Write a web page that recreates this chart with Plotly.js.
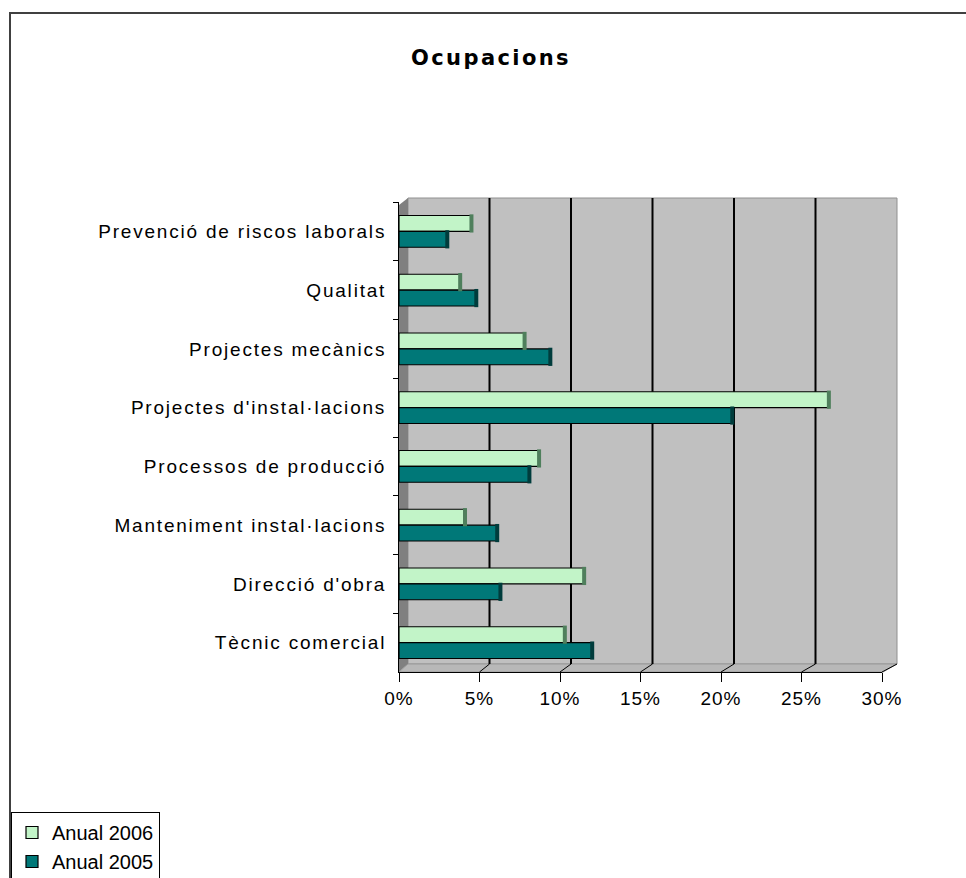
<!DOCTYPE html>
<html><head><meta charset="utf-8">
<script src="https://cdn.plot.ly/plotly-3.0.1.min.js"></script>
<style>
html,body{margin:0;padding:0;background:#fff;}
#chart{width:966px;height:878px;}
#chart .ytick text{letter-spacing:1.8px;}
#chart .xtick text{letter-spacing:1px;}
#chart .gtitle{letter-spacing:2.4px;}
</style></head><body><div id="chart"></div>
<script>
const categories = ["Prevenció de riscos laborals","Qualitat","Projectes mecànics","Projectes d'instal·lacions","Processos de producció","Manteniment instal·lacions","Direcció d'obra","Tècnic comercial"];
const anual2006 = [4.5, 3.8, 7.8, 26.7, 8.7, 4.1, 11.5, 10.3];
const anual2005 = [3.0, 4.8, 9.4, 20.7, 8.1, 6.1, 6.3, 12.0];
const seriesNames = ["Anual 2006", "Anual 2005"];
const xTickVals = [0, 5, 10, 15, 20, 25, 30];
const xTickText = ["0%", "5%", "10%", "15%", "20%", "25%", "30%"];

// geometry (pixels)
const W = 966, H = 878;
const L = 399, R = 882, T = 202, B = 672;
const fx = px => (px - L) / (R - L);
const fy = py => (B - py) / (B - T);
const backL = 408, backR = 897, backT = 198, backB = 664;
const backX = v => backL + v * (backR - backL) / 30;
const frontX = v => L + v * (R - L) / 30;

const shapes = [];
// outer chart border
shapes.push({type:'rect', xref:'paper', yref:'paper', x0:fx(10), x1:fx(990), y0:fy(13), y1:fy(900),
  line:{color:'#404040', width:2}, fillcolor:'rgba(0,0,0,0)', layer:'below'});
// back wall
shapes.push({type:'rect', xref:'paper', yref:'paper', x0:fx(backL), x1:fx(backR), y0:fy(backT), y1:fy(backB),
  line:{color:'#909090', width:1}, fillcolor:'#c0c0c0', layer:'below'});
// left wall
shapes.push({type:'path', xref:'paper', yref:'paper',
  path:`M${fx(L)},${fy(205)} L${fx(backL)},${fy(backT)} L${fx(backL)},${fy(backB)} L${fx(L)},${fy(B)} Z`,
  fillcolor:'#808080', line:{width:0}, layer:'below'});
// floor
shapes.push({type:'path', xref:'paper', yref:'paper',
  path:`M${fx(L)},${fy(B)} L${fx(backL)},${fy(backB)} L${fx(backR)},${fy(backB)} L${fx(R+1)},${fy(B)} Z`,
  fillcolor:'#b8b8b8', line:{color:'#9a9a9a', width:1}, layer:'below'});
// back gridlines + floor diagonal ticks
xTickVals.forEach(v => {
  if (v > 0 && v < 30) {
    shapes.push({type:'line', xref:'paper', yref:'paper', x0:fx(backX(v)), x1:fx(backX(v)), y0:fy(backT), y1:fy(backB),
      line:{color:'#000', width:2}, layer:'below'});
  }
  if (v > 0) {
    shapes.push({type:'line', xref:'paper', yref:'paper', x0:fx(frontX(v)), x1:fx(backX(v)), y0:fy(B), y1:fy(backB),
      line:{color:'#000', width:1}, layer:'below'});
  }
});

const traces = [
  {type:'bar', orientation:'h', name:seriesNames[0], y:categories, x:anual2006,
   marker:{color:'#c2f4c8', line:{color:'#000', width:1.2}}},
  {type:'bar', orientation:'h', name:seriesNames[1], y:categories, x:anual2005,
   marker:{color:'#007878', line:{color:'#000', width:1.2}}},
  // 3D end caps of the bars
  {type:'scatter', mode:'markers', orientation:'h', y:categories, x:anual2006, showlegend:false, cliponaxis:false,
   marker:{symbol:'line-ns-open', size:13, color:'#4f7f5c', line:{width:4}}},
  {type:'scatter', mode:'markers', orientation:'h', y:categories, x:anual2005, showlegend:false, cliponaxis:false,
   marker:{symbol:'line-ns-open', size:13, color:'#003c3c', line:{width:4}}}
];

const font = {family:'"Liberation Sans", Arial, sans-serif', size:19, color:'#000'};

const layout = {
  width:W, height:H,
  margin:{l:L, r:W-R, t:T, b:H-B, pad:0, autoexpand:false},
  paper_bgcolor:'#fff', plot_bgcolor:'rgba(0,0,0,0)',
  font:font,
  title:{text:'Ocupacions', font:{family:'"DejaVu Sans", sans-serif', size:21, weight:'bold', color:'#000'},
    xref:'container', x:491/W, xanchor:'center', yref:'container', y:1-58/H, yanchor:'middle'},
  barmode:'group', bargap:0.46, bargroupgap:0,
  scattermode:'group', scattergap:0.46,
  xaxis:{range:[0,30], tickvals:xTickVals, ticktext:xTickText, showgrid:false, zeroline:false,
    showline:true, linecolor:'#000', linewidth:1, ticks:'outside', ticklen:9, tickcolor:'#000', tickwidth:1,
    tickfont:font, fixedrange:true, automargin:false},
  yaxis:{type:'category', autorange:'reversed', showgrid:false, zeroline:false,
    showline:true, linecolor:'#000', linewidth:1, ticks:'outside', tickson:'boundaries', ticklen:5,
    tickcolor:'#000', tickfont:font, ticklabelstandoff:8, fixedrange:true, automargin:false},
  showlegend:true,
  legend:{x:fx(11), y:fy(812), xanchor:'left', yanchor:'top', bgcolor:'#fff', bordercolor:'#000', borderwidth:1,
    font:{family:'"Liberation Sans", Arial, sans-serif', size:20, color:'#000'},
    traceorder:'normal', itemwidth:30, tracegroupgap:0},
  shapes:shapes,
  hovermode:false
};

Plotly.newPlot('chart', traces, layout, {staticPlot:true, displayModeBar:false});
</script></body></html>
